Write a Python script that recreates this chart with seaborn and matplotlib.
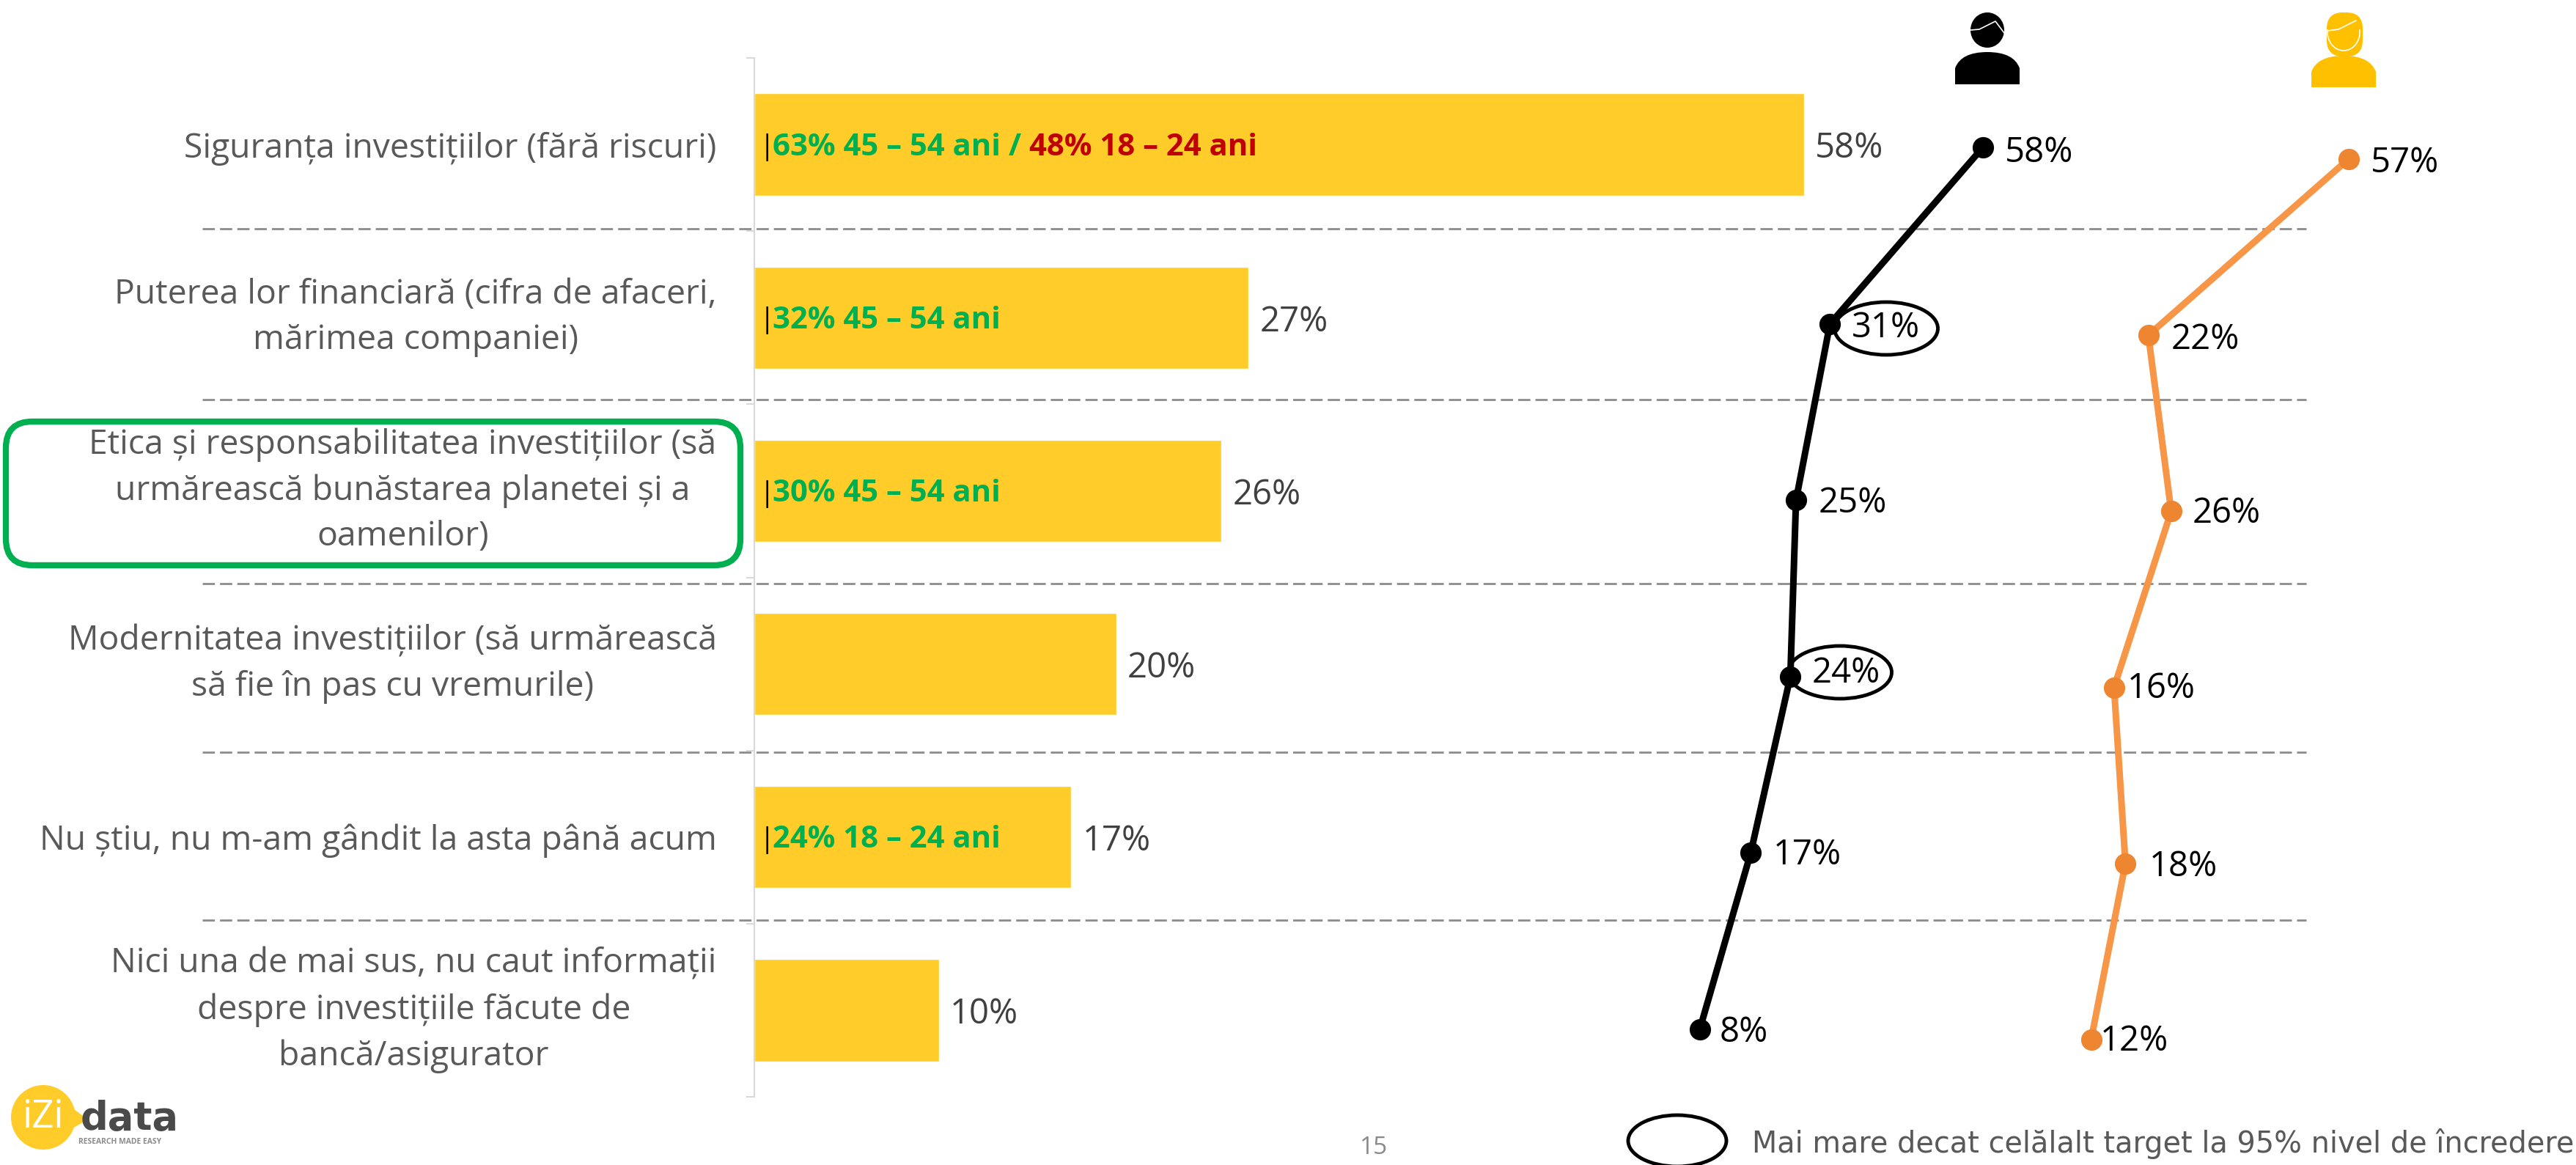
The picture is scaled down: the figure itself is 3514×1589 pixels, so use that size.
import matplotlib
matplotlib.use("Agg")
import matplotlib.pyplot as plt
from matplotlib.patches import Arc, Ellipse, FancyBboxPatch, PathPatch, Circle, Polygon
from matplotlib.path import Path
import pandas as pd
import seaborn as sns

W, H = 3514, 1589

categories = [
    "Siguranța investițiilor (fără riscuri)",
    "Puterea lor financiară (cifra de afaceri,\nmărimea companiei)",
    "Etica și responsabilitatea investițiilor (să\nurmărească bunăstarea planetei și a\noamenilor)",
    "Modernitatea investițiilor (să urmărească\nsă fie în pas cu vremurile)",
    "Nu știu, nu m-am gândit la asta până acum",
    "Nici una de mai sus, nu caut informații\ndespre investițiile făcute de\nbancă/asigurator",
]
total_values = [58, 27.3, 25.8, 20, 17.5, 10.2]
total_labels = ["58%", "27%", "26%", "20%", "17%", "10%"]
men_values = [58, 31, 25, 24, 17, 8]
women_values = [57, 22, 26, 16, 18, 12]

# age group callouts inside the bars: row, green text, red text
callouts = [
    (0, "63% 45 – 54 ani", "48% 18 – 24 ani"),
    (1, "32% 45 – 54 ani", None),
    (2, "30% 45 – 54 ani", None),
    (4, "24% 18 – 24 ani", None),
]
separator_rows = [312, 545, 796, 1026, 1255]

sns.set_theme(style="white")
plt.rcParams["font.family"] = ["Open Sans", "DejaVu Sans"]

YELLOW = "#FFCC29"
GREEN = "#00B050"
RED = "#C00000"
ORANGE = "#F79646"
GREY = "#595959"

fig = plt.figure(figsize=(W / 100, H / 100), dpi=100, facecolor="white")


def px_axes(x0, y0, x1, y1):
    a = fig.add_axes([x0 / W, 1 - y1 / H, (x1 - x0) / W, (y1 - y0) / H])
    a.patch.set_alpha(0)
    return a


# overlay in pixel coords for the decorations
bg = px_axes(0, 0, W, H)
bg.set_xlim(0, W)
bg.set_ylim(H, 0)
bg.axis("off")

for y in separator_rows:
    bg.plot([276, 3146], [y, y], color="#8C8C8C", lw=2, ls=(0, (6, 2.5)))

# bars
ax = px_axes(1029, 79, W, 1496)
df = pd.DataFrame({"categorie": categories, "total": total_values})
sns.barplot(data=df, y="categorie", x="total", color=YELLOW, saturation=1,
            width=0.59, orient="h", ax=ax)
ax.set_xlim(0, (W - 1029) / 24.69)
ax.set_ylim(5.5, -0.5)
ax.set_xlabel("")
ax.set_ylabel("")
ax.set_xticks([])
sns.despine(ax=ax, top=True, right=True, bottom=True)
ax.spines["left"].set_color("#D9D9D9")
ax.spines["left"].set_linewidth(1.5)
ax.set_yticks([i - 0.5 for i in range(7)], minor=True)
ax.tick_params(axis="y", which="minor", left=True, length=8, width=1.5, color="#D9D9D9")
ax.tick_params(axis="y", which="major", left=False, length=0, pad=37, labelsize=33.3, labelcolor=GREY)
for lab in ax.get_yticklabels():
    lab.set_multialignment("center")
    lab.set_linespacing(1.47)
    if "\n" in lab.get_text():
        lab.set_verticalalignment("center")
for ann in ax.bar_label(ax.containers[0], labels=total_labels, padding=11, fontsize=34, color="#404040"):
    ann.xyann = (11, -4)

for row, green, red in callouts:
    ax.annotate("|", xy=(0, row), xytext=(5, -3), textcoords="offset points",
                fontsize=28, color="black", va="center", ha="left")
    t = ax.annotate(green, xy=(0, row), xytext=(18, -3), textcoords="offset points",
                    fontsize=30.2, fontweight="bold", color=GREEN, va="center", ha="left")
    if red:
        s = ax.annotate(" / ", xy=(1, 0.5), xycoords=t, fontsize=30.2, fontweight="bold",
                        color=GREEN, va="center", ha="left")
        ax.annotate(red, xy=(1, 0.5), xycoords=s, fontsize=30.2, fontweight="bold",
                    color=RED, va="center", ha="left")

# men and women lines
rows = list(range(6))
men_ax = px_axes(2257, 81, W, 1524)
sns.lineplot(x=men_values, y=rows, sort=False, estimator=None, color="black", lw=6.5,
             marker="o", markersize=21, markeredgewidth=0, ax=men_ax)
women_ax = px_axes(2759, 97, W, 1538)
sns.lineplot(x=women_values, y=rows, sort=False, estimator=None, color=ORANGE, lw=6.5,
             marker="o", markersize=21, markeredgewidth=0, ax=women_ax)
women_ax.lines[0].set_markerfacecolor("#EE8530")

men_off = [(22, -5), (21, -4), (22, -3), (21, 3), (22, -2), (19, -3)]
women_off = [(22, -4), (22, -4), (21, -2), (13, -1), (23, -3), (9, -2)]
for a, vals, offs, x0, slope in [(men_ax, men_values, men_off, 2257, 7.72),
                                 (women_ax, women_values, women_off, 2759, 7.8)]:
    a.set_xlim(0, (W - x0) / slope)
    a.set_ylim(5.5, -0.5)
    a.axis("off")
    for r, (v, o) in enumerate(zip(vals, offs)):
        a.annotate(f"{v}%", xy=(v, r), xytext=o, textcoords="offset points",
                   fontsize=34, color="black", va="center", ha="left", zorder=5)

# circles around significant values
bg.add_patch(Ellipse((2573, 448), 141, 72, fill=False, ec="black", lw=3.5))
bg.add_patch(Ellipse((2510, 917), 141, 72, fill=False, ec="black", lw=3.5))

# green highlight box
bg.add_patch(FancyBboxPatch((44, 611), 930, 124, boxstyle="round,pad=36,rounding_size=36",
                            fill=False, ec=GREEN, lw=6))


def dome(xc, half, top, bottom, color):
    verts = [(xc - half, bottom), (xc - half, top + 22),
             (xc - half + 8, top), (xc, top),
             (xc + half - 8, top), (xc + half, top + 22),
             (xc + half, bottom), (xc - half, bottom)]
    codes = [Path.MOVETO, Path.LINETO, Path.CURVE3, Path.CURVE3, Path.CURVE3, Path.CURVE3,
             Path.LINETO, Path.CLOSEPOLY]
    bg.add_patch(PathPatch(Path(verts, codes), fc=color, ec="none"))


# man icon
dome(2711, 44, 71, 115, "black")
bg.add_patch(Ellipse((2711, 41), 46, 48, fc="black", ec="none"))
bg.plot([2688, 2700, 2722, 2734], [41, 40, 29, 45], color="white", lw=1.2)

# woman icon
WOMAN = "#FFC000"
bg.add_patch(FancyBboxPatch((3174, 17), 49, 60, boxstyle="round,pad=0,rounding_size=22", fc=WOMAN, ec="none"))
dome(3197, 44, 76, 119, WOMAN)
bg.add_patch(Arc((3197, 44), 44, 50, theta1=-10, theta2=190, ec="white", lw=1.2))
bg.plot([3175, 3190, 3214], [42, 40, 28], color="white", lw=1.2)

# logo
bg.add_patch(Circle((59, 1524), 44, fc=YELLOW, ec="none"))
bg.add_patch(Polygon([[90, 1505], [120, 1527], [88, 1545]], fc=YELLOW, ec="none"))
bg.text(59, 1524, "iZi", fontsize=38, color="white", ha="center", va="center")
bg.text(110, 1526, "data", fontsize=38, fontweight="bold", color="#4A4A4A", ha="left", va="center",
        family="DejaVu Sans")
bg.text(107, 1557, "RESEARCH MADE EASY", fontsize=7.5, fontweight="bold", color="#8C8C8C", ha="left", va="center")

# footer
bg.text(1874, 1565, "15", fontsize=24, color="#898989", ha="center", va="center")
bg.add_patch(Ellipse((2288, 1556), 134, 70, fill=False, ec="black", lw=3.5))
bg.text(2390, 1560, "Mai mare decat celălalt target la 95% nivel de încredere", fontsize=28.6,
        color=GREY, ha="left", va="center", family="DejaVu Sans")

fig.savefig("out.png", dpi=100)
